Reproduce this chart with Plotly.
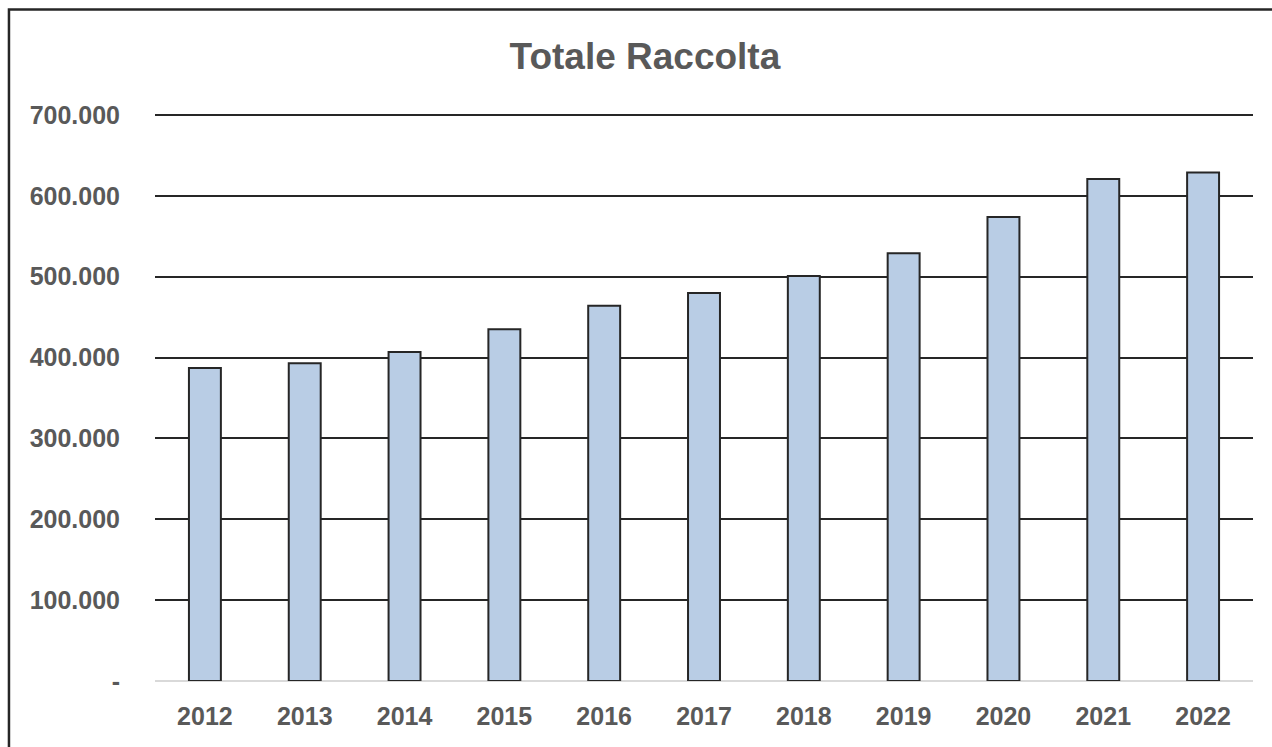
import plotly.graph_objects as go

years = ["2012", "2013", "2014", "2015", "2016", "2017", "2018", "2019", "2020", "2021", "2022"]
totale_raccolta = [387000, 393000, 407000, 435000, 464000, 480000, 501000, 529000, 574000, 621000, 629000]
y_tick_values = [0, 100000, 200000, 300000, 400000, 500000, 600000, 700000]
y_tick_labels = ["-", "100.000", "200.000", "300.000", "400.000", "500.000", "600.000", "700.000"]

FONT = "Liberation Sans, Arial, sans-serif"
TXT = "#595959"

fig = go.Figure(
    go.Bar(
        x=years,
        y=totale_raccolta,
        marker=dict(color="#B9CDE5", line=dict(color="#262626", width=2)),
    )
)

fig.update_layout(
    width=1272,
    height=747,
    margin=dict(l=155, r=19, t=113, b=66),
    paper_bgcolor="white",
    plot_bgcolor="white",
    bargap=0.68,
    showlegend=False,
    title=dict(
        text="<b>Totale Raccolta</b>",
        font=dict(family=FONT, size=37, color=TXT),
        x=0.507,
        xanchor="center",
        y=0.925,
        yanchor="middle",
    ),
    font=dict(family=FONT, size=25, color=TXT),
    shapes=[
        dict(
            type="rect",
            xref="paper",
            yref="paper",
            x0=-0.133,
            x1=1.05,
            y0=-0.25,
            y1=1.182,
            line=dict(color="#262626", width=2.5),
            fillcolor="rgba(0,0,0,0)",
            layer="below",
        )
    ],
)

fig.update_xaxes(
    type="category",
    showgrid=False,
    showline=False,
    ticks="",
    tickfont=dict(family=FONT, size=25, color=TXT, weight="bold"),
    ticklabelstandoff=18,
)

fig.update_yaxes(
    range=[0, 702500],
    tickvals=y_tick_values,
    ticktext=y_tick_labels,
    showgrid=True,
    gridcolor="#262626",
    gridwidth=1.8,
    zeroline=True,
    zerolinecolor="#D9D9D9",
    zerolinewidth=2,
    showline=False,
    ticks="",
    tickfont=dict(family=FONT, size=25, color=TXT, weight="bold"),
    ticklabelstandoff=34,
)

fig.write_html(
    "out.html",
    config={"displayModeBar": False},
    post_script="document.body.style.margin='0';document.body.style.overflow='hidden';",
)
